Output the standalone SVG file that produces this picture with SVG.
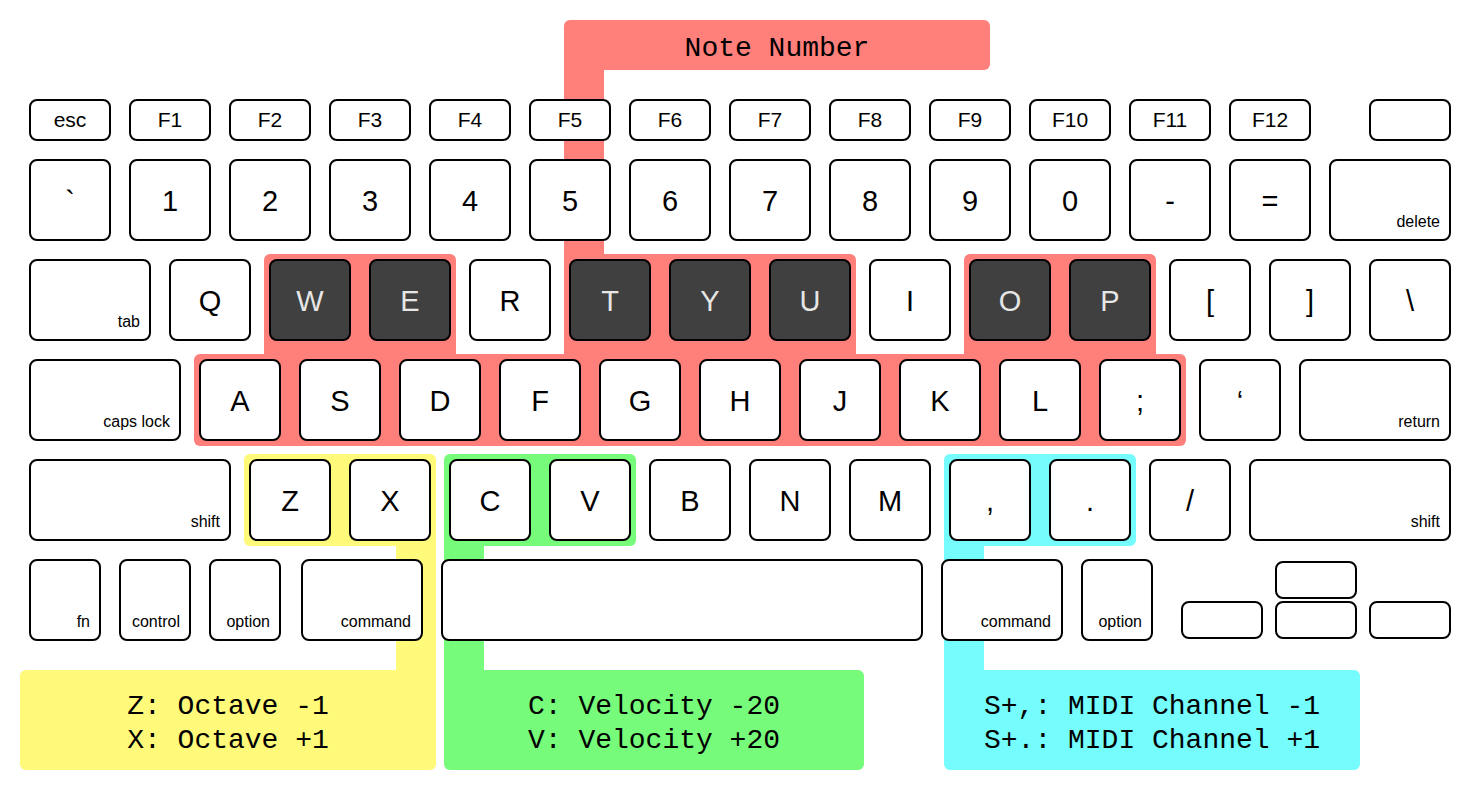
<svg xmlns="http://www.w3.org/2000/svg" width="1474" height="790" viewBox="0 0 1474 790">
<style>
.k{fill:#fff;stroke:#000;stroke-width:2}
.kd{fill:#404040;stroke:#000;stroke-width:2}
.t{font-family:"Liberation Sans",Arial,sans-serif;font-size:29px;text-anchor:middle;fill:#000}
.td{font-family:"Liberation Sans",Arial,sans-serif;font-size:29px;text-anchor:middle;fill:#e6e6e6}
.f{font-family:"Liberation Sans",Arial,sans-serif;font-size:21px;text-anchor:middle;fill:#000}
.s{font-family:"Liberation Sans",Arial,sans-serif;font-size:16px;text-anchor:end;fill:#000}
.m{font-family:"Liberation Mono","Courier New",monospace;font-size:28px;text-anchor:middle;fill:#000}
.red{fill:#ff7f7a}.yel{fill:#fffa7a}.grn{fill:#76fb7a}.cyn{fill:#75fcfc}
</style>
<rect width="1474" height="790" fill="#fff"/>
<g id="connectors">
<rect class="red" x="564" y="60" width="40" height="200"/>
<rect class="red" x="264" y="254" width="192" height="110" rx="6"/>
<rect class="red" x="564" y="254" width="292" height="110" rx="6"/>
<rect class="red" x="964" y="254" width="192" height="110" rx="6"/>
<rect class="red" x="194" y="354" width="992" height="92" rx="6"/>
<rect class="red" x="564" y="254" width="40" height="20"/>
<rect class="yel" x="244" y="454" width="192" height="92" rx="6"/>
<rect class="yel" x="396" y="530" width="40" height="150"/>
<rect class="grn" x="444" y="454" width="192" height="92" rx="6"/>
<rect class="grn" x="444" y="530" width="40" height="150"/>
<rect class="cyn" x="944" y="454" width="192" height="92" rx="6"/>
<rect class="cyn" x="944" y="530" width="40" height="150"/>
</g>
<g id="note-number">
<rect class="red" x="564" y="20" width="426" height="50" rx="6"/>
<text class="m" x="777" y="56">Note Number</text>
</g>
<g id="octave-box">
<rect class="yel" x="20" y="670" width="416" height="100" rx="6"/>
<rect class="yel" x="396" y="670" width="40" height="20"/>
<text class="m" x="228" y="714">Z: Octave -1</text>
<text class="m" x="228" y="748">X: Octave +1</text>
</g>
<g id="velocity-box">
<rect class="grn" x="444" y="670" width="420" height="100" rx="6"/>
<rect class="grn" x="444" y="670" width="40" height="20"/>
<text class="m" x="654" y="714">C: Velocity -20</text>
<text class="m" x="654" y="748">V: Velocity +20</text>
</g>
<g id="channel-box">
<rect class="cyn" x="944" y="670" width="416" height="100" rx="6"/>
<rect class="cyn" x="944" y="670" width="40" height="20"/>
<text class="m" x="1152" y="714">S+,: MIDI Channel -1</text>
<text class="m" x="1152" y="748">S+.: MIDI Channel +1</text>
</g>
<g id="row-function">
<g id="key-esc"><rect class="k" x="30" y="100" width="80" height="40" rx="7"/><text class="f" x="70" y="127">esc</text></g>
<g id="key-f1"><rect class="k" x="130" y="100" width="80" height="40" rx="7"/><text class="f" x="170" y="127">F1</text></g>
<g id="key-f2"><rect class="k" x="230" y="100" width="80" height="40" rx="7"/><text class="f" x="270" y="127">F2</text></g>
<g id="key-f3"><rect class="k" x="330" y="100" width="80" height="40" rx="7"/><text class="f" x="370" y="127">F3</text></g>
<g id="key-f4"><rect class="k" x="430" y="100" width="80" height="40" rx="7"/><text class="f" x="470" y="127">F4</text></g>
<g id="key-f5"><rect class="k" x="530" y="100" width="80" height="40" rx="7"/><text class="f" x="570" y="127">F5</text></g>
<g id="key-f6"><rect class="k" x="630" y="100" width="80" height="40" rx="7"/><text class="f" x="670" y="127">F6</text></g>
<g id="key-f7"><rect class="k" x="730" y="100" width="80" height="40" rx="7"/><text class="f" x="770" y="127">F7</text></g>
<g id="key-f8"><rect class="k" x="830" y="100" width="80" height="40" rx="7"/><text class="f" x="870" y="127">F8</text></g>
<g id="key-f9"><rect class="k" x="930" y="100" width="80" height="40" rx="7"/><text class="f" x="970" y="127">F9</text></g>
<g id="key-f10"><rect class="k" x="1030" y="100" width="80" height="40" rx="7"/><text class="f" x="1070" y="127">F10</text></g>
<g id="key-f11"><rect class="k" x="1130" y="100" width="80" height="40" rx="7"/><text class="f" x="1170" y="127">F11</text></g>
<g id="key-f12"><rect class="k" x="1230" y="100" width="80" height="40" rx="7"/><text class="f" x="1270" y="127">F12</text></g>
<g id="key-power"><rect class="k" x="1370" y="100" width="80" height="40" rx="7"/></g>
</g>
<g id="row-number">
<g id="key-grave"><rect class="k" x="30" y="160" width="80" height="80" rx="7"/><text class="t" x="70" y="211">`</text></g>
<g id="key-1"><rect class="k" x="130" y="160" width="80" height="80" rx="7"/><text class="t" x="170" y="211">1</text></g>
<g id="key-2"><rect class="k" x="230" y="160" width="80" height="80" rx="7"/><text class="t" x="270" y="211">2</text></g>
<g id="key-3"><rect class="k" x="330" y="160" width="80" height="80" rx="7"/><text class="t" x="370" y="211">3</text></g>
<g id="key-4"><rect class="k" x="430" y="160" width="80" height="80" rx="7"/><text class="t" x="470" y="211">4</text></g>
<g id="key-5"><rect class="k" x="530" y="160" width="80" height="80" rx="7"/><text class="t" x="570" y="211">5</text></g>
<g id="key-6"><rect class="k" x="630" y="160" width="80" height="80" rx="7"/><text class="t" x="670" y="211">6</text></g>
<g id="key-7"><rect class="k" x="730" y="160" width="80" height="80" rx="7"/><text class="t" x="770" y="211">7</text></g>
<g id="key-8"><rect class="k" x="830" y="160" width="80" height="80" rx="7"/><text class="t" x="870" y="211">8</text></g>
<g id="key-9"><rect class="k" x="930" y="160" width="80" height="80" rx="7"/><text class="t" x="970" y="211">9</text></g>
<g id="key-0"><rect class="k" x="1030" y="160" width="80" height="80" rx="7"/><text class="t" x="1070" y="211">0</text></g>
<g id="key-minus"><rect class="k" x="1130" y="160" width="80" height="80" rx="7"/><text class="t" x="1170" y="211">-</text></g>
<g id="key-equal"><rect class="k" x="1230" y="160" width="80" height="80" rx="7"/><text class="t" x="1270" y="211">=</text></g>
<g id="key-delete"><rect class="k" x="1330" y="160" width="120" height="80" rx="7"/><text class="s" x="1440" y="227">delete</text></g>
</g>
<g id="row-qwerty">
<g id="key-tab"><rect class="k" x="30" y="260" width="120" height="80" rx="7"/><text class="s" x="140" y="327">tab</text></g>
<g id="key-q"><rect class="k" x="170" y="260" width="80" height="80" rx="7"/><text class="t" x="210" y="311">Q</text></g>
<g id="key-w"><rect class="kd" x="270" y="260" width="80" height="80" rx="7"/><text class="td" x="310" y="311">W</text></g>
<g id="key-e"><rect class="kd" x="370" y="260" width="80" height="80" rx="7"/><text class="td" x="410" y="311">E</text></g>
<g id="key-r"><rect class="k" x="470" y="260" width="80" height="80" rx="7"/><text class="t" x="510" y="311">R</text></g>
<g id="key-t"><rect class="kd" x="570" y="260" width="80" height="80" rx="7"/><text class="td" x="610" y="311">T</text></g>
<g id="key-y"><rect class="kd" x="670" y="260" width="80" height="80" rx="7"/><text class="td" x="710" y="311">Y</text></g>
<g id="key-u"><rect class="kd" x="770" y="260" width="80" height="80" rx="7"/><text class="td" x="810" y="311">U</text></g>
<g id="key-i"><rect class="k" x="870" y="260" width="80" height="80" rx="7"/><text class="t" x="910" y="311">I</text></g>
<g id="key-o"><rect class="kd" x="970" y="260" width="80" height="80" rx="7"/><text class="td" x="1010" y="311">O</text></g>
<g id="key-p"><rect class="kd" x="1070" y="260" width="80" height="80" rx="7"/><text class="td" x="1110" y="311">P</text></g>
<g id="key-lbracket"><rect class="k" x="1170" y="260" width="80" height="80" rx="7"/><text class="t" x="1210" y="311">[</text></g>
<g id="key-rbracket"><rect class="k" x="1270" y="260" width="80" height="80" rx="7"/><text class="t" x="1310" y="311">]</text></g>
<g id="key-backslash"><rect class="k" x="1370" y="260" width="80" height="80" rx="7"/><text class="t" x="1410" y="311">\</text></g>
</g>
<g id="row-home">
<g id="key-capslock"><rect class="k" x="30" y="360" width="150" height="80" rx="7"/><text class="s" x="170" y="427">caps lock</text></g>
<g id="key-a"><rect class="k" x="200" y="360" width="80" height="80" rx="7"/><text class="t" x="240" y="411">A</text></g>
<g id="key-s"><rect class="k" x="300" y="360" width="80" height="80" rx="7"/><text class="t" x="340" y="411">S</text></g>
<g id="key-d"><rect class="k" x="400" y="360" width="80" height="80" rx="7"/><text class="t" x="440" y="411">D</text></g>
<g id="key-f"><rect class="k" x="500" y="360" width="80" height="80" rx="7"/><text class="t" x="540" y="411">F</text></g>
<g id="key-g"><rect class="k" x="600" y="360" width="80" height="80" rx="7"/><text class="t" x="640" y="411">G</text></g>
<g id="key-h"><rect class="k" x="700" y="360" width="80" height="80" rx="7"/><text class="t" x="740" y="411">H</text></g>
<g id="key-j"><rect class="k" x="800" y="360" width="80" height="80" rx="7"/><text class="t" x="840" y="411">J</text></g>
<g id="key-k"><rect class="k" x="900" y="360" width="80" height="80" rx="7"/><text class="t" x="940" y="411">K</text></g>
<g id="key-l"><rect class="k" x="1000" y="360" width="80" height="80" rx="7"/><text class="t" x="1040" y="411">L</text></g>
<g id="key-semicolon"><rect class="k" x="1100" y="360" width="80" height="80" rx="7"/><text class="t" x="1140" y="411">;</text></g>
<g id="key-quote"><rect class="k" x="1200" y="360" width="80" height="80" rx="7"/><text class="t" x="1240" y="411">‘</text></g>
<g id="key-return"><rect class="k" x="1300" y="360" width="150" height="80" rx="7"/><text class="s" x="1440" y="427">return</text></g>
</g>
<g id="row-bottom">
<g id="key-lshift"><rect class="k" x="30" y="460" width="200" height="80" rx="7"/><text class="s" x="220" y="527">shift</text></g>
<g id="key-z"><rect class="k" x="250" y="460" width="80" height="80" rx="7"/><text class="t" x="290" y="511">Z</text></g>
<g id="key-x"><rect class="k" x="350" y="460" width="80" height="80" rx="7"/><text class="t" x="390" y="511">X</text></g>
<g id="key-c"><rect class="k" x="450" y="460" width="80" height="80" rx="7"/><text class="t" x="490" y="511">C</text></g>
<g id="key-v"><rect class="k" x="550" y="460" width="80" height="80" rx="7"/><text class="t" x="590" y="511">V</text></g>
<g id="key-b"><rect class="k" x="650" y="460" width="80" height="80" rx="7"/><text class="t" x="690" y="511">B</text></g>
<g id="key-n"><rect class="k" x="750" y="460" width="80" height="80" rx="7"/><text class="t" x="790" y="511">N</text></g>
<g id="key-m"><rect class="k" x="850" y="460" width="80" height="80" rx="7"/><text class="t" x="890" y="511">M</text></g>
<g id="key-comma"><rect class="k" x="950" y="460" width="80" height="80" rx="7"/><text class="t" x="990" y="511">,</text></g>
<g id="key-period"><rect class="k" x="1050" y="460" width="80" height="80" rx="7"/><text class="t" x="1090" y="511">.</text></g>
<g id="key-slash"><rect class="k" x="1150" y="460" width="80" height="80" rx="7"/><text class="t" x="1190" y="511">/</text></g>
<g id="key-rshift"><rect class="k" x="1250" y="460" width="200" height="80" rx="7"/><text class="s" x="1440" y="527">shift</text></g>
</g>
<g id="row-space">
<g id="key-fn"><rect class="k" x="30" y="560" width="70" height="80" rx="7"/><text class="s" x="90" y="627">fn</text></g>
<g id="key-control"><rect class="k" x="120" y="560" width="70" height="80" rx="7"/><text class="s" x="180" y="627">control</text></g>
<g id="key-loption"><rect class="k" x="210" y="560" width="70" height="80" rx="7"/><text class="s" x="270" y="627">option</text></g>
<g id="key-lcommand"><rect class="k" x="302" y="560" width="120" height="80" rx="7"/><text class="s" x="411" y="627">command</text></g>
<g id="key-space"><rect class="k" x="442" y="560" width="480" height="80" rx="7"/></g>
<g id="key-rcommand"><rect class="k" x="942" y="560" width="120" height="80" rx="7"/><text class="s" x="1051" y="627">command</text></g>
<g id="key-roption"><rect class="k" x="1082" y="560" width="70" height="80" rx="7"/><text class="s" x="1142" y="627">option</text></g>
<g id="key-up"><rect class="k" x="1276" y="562" width="80" height="36" rx="7"/></g>
<g id="key-left"><rect class="k" x="1182" y="602" width="80" height="36" rx="7"/></g>
<g id="key-down"><rect class="k" x="1276" y="602" width="80" height="36" rx="7"/></g>
<g id="key-right"><rect class="k" x="1370" y="602" width="80" height="36" rx="7"/></g>
</g>
</svg>
